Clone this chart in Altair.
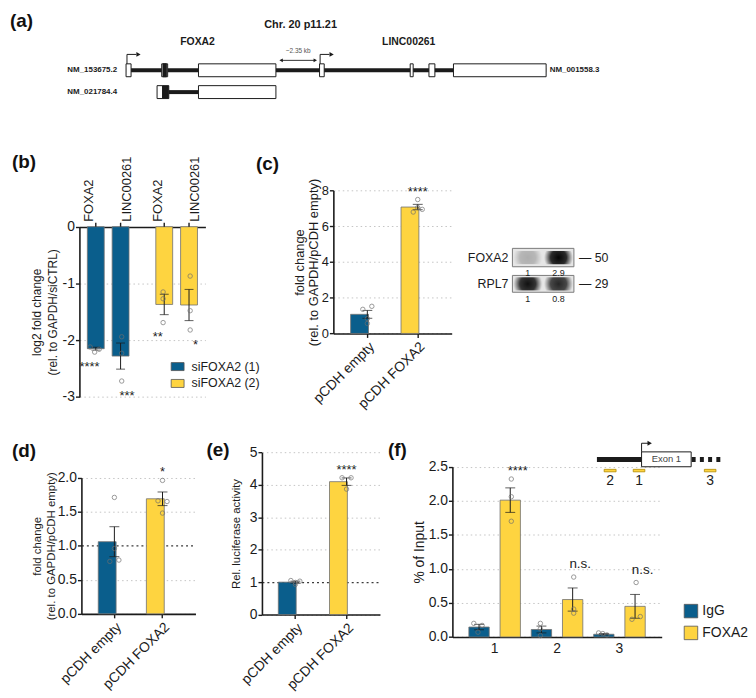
import altair as alt
import pandas as pd

FONT = "Liberation Sans"
BLUE = "#0a5e8c"
YELLOW = "#fed440"
INK = "#1b1b1b"
EDGE = "#707070"
DOT = "#6e6e6e"
GRID = "#c4c4c4"

# ======================= data =======================
# (a) transcript structures, positions in kb from the FOXA2 TSS
a_tx_names = ["NM_153675.2", "NM_021784.4"]
a_tx_line_start = [0.0, 2.30]
a_tx_line_end = [22.62, 3.90]
a_exon_tx = [0, 0, 0, 0, 0, 0, 0, 0, 1, 1, 1]
a_exon_start = [0.00, 1.92, 1.99, 3.90, 10.42, 15.30, 16.31, 17.63, 1.67, 1.97, 3.90]
a_exon_end = [0.27, 2.24, 2.17, 8.07, 10.67, 15.46, 16.63, 22.62, 1.97, 2.30, 8.07]
a_exon_kind = ["UTR", "UTR", "CDS", "UTR", "UTR", "UTR", "UTR", "UTR", "UTR", "CDS", "UTR"]
a_tss_kb = [0.05, 10.45]
a_gene_names = ["FOXA2", "LINC00261"]
a_gene_mid_kb = [3.85, 15.22]
a_gap_kb = [8.23, 10.31]
a_gap_text = "~2.35 kb"
a_region_text = "Chr. 20 p11.21"
a_region_mid_kb = 9.40
a_right_tx = "NM_001558.3"

# (b)
b_sirna = ["siFOXA2 (1)", "siFOXA2 (2)"]
b_genes = ["FOXA2", "LINC00261"]
b_mean = [[-2.15, -2.28], [-1.37, -1.38]]
b_sem = [[0.025, 0.23], [0.18, 0.275]]
b_pts = [[[-2.12, -2.21, -2.16], [-1.94, -2.23, -2.72]],
         [[-1.15, -1.27, -1.69], [-0.87, -1.48, -1.82]]]
b_jit = [[[-1, 0, 1], [0, 0, 0]], [[0, 0, 0], [0, 0, 0]]]
b_sig = [["****", "***"], ["**", "*"]]

# (c)
c_groups = ["pCDH empty", "pCDH FOXA2"]
c_mean = [1.07, 7.08]
c_sem = [0.22, 0.15]
c_pts = [[1.35, 1.52, 0.83, 0.56], [6.80, 7.50, 6.95, 7.05]]
c_jit = [[-1, 1, 0, 0], [-1, 0, 1, 0]]
c_sig = ["", "****"]

# western blot
wb_proteins = ["FOXA2", "RPL7"]
wb_kda = ["50", "29"]
wb_lanes = [1, 2]
wb_quant = [["1", "2.9"], ["1", "0.8"]]
wb_band = [[0.25, 1.0], [0.95, 0.85]]

# (d)
d_groups = ["pCDH empty", "pCDH FOXA2"]
d_mean = [1.06, 1.69]
d_sem = [0.22, 0.10]
d_pts = [[1.71, 0.96, 0.77, 0.79], [1.96, 1.66, 1.65, 1.48]]
d_jit = [[0, 0, -1, 1], [0, -1, 1, 0]]
d_sig = ["", "*"]

# (e)
e_groups = ["pCDH empty", "pCDH FOXA2"]
e_mean = [1.00, 4.10]
e_sem = [0.03, 0.115]
e_pts = [[1.05, 1.03, 0.93, 0.99], [4.22, 4.22, 3.87]]
e_jit = [[-1, 1, 0, 0], [-1, 1, 0]]
e_sig = ["", "****"]

# (f)
f_sites = ["1", "2", "3"]
f_ab = ["IgG", "FOXA2"]
f_mean = [[0.146, 2.01], [0.11, 0.55], [0.04, 0.45]]
f_sem = [[0.04, 0.18], [0.05, 0.17], [0.01, 0.175]]
f_pts = [[[0.20, 0.07, 0.17], [2.32, 2.06, 1.70]],
         [[0.20, 0.12, 0.02], [0.88, 0.41, 0.35]],
         [[0.06, 0.05, 0.03], [0.80, 0.26, 0.30]]]
f_jit = [[[-1, 0, 1], [0, 0, 0]], [[0, 0, 0], [0, 0, 0]], [[-1, 0, 1], [0, -1, 1]]]
f_sig = [["", "****"], ["", "n.s."], ["", "n.s."]]
# inset: promoter / exon 1, bp from the TSS
f_upstream_bp = -450
f_exon1_bp = [0, 500]
f_downstream_bp = 813
f_primer_names = ["2", "1", "3"]
f_primer_start = [-377, -84, 633]
f_primer_end = [-257, 33, 750]

# ======================= layout grid =======================
COLS = [72, 2, 182, 72, 120, 14, 145]   # column widths of the panel grid


# ======================= helpers =======================
def cond(test, a, b):
    return {"condition": {"test": test, "value": a}, "value": b}


def yaxis(title, values, fmt=None, expr=None, tfs=12, tlh=None, tpad=2, lfs=14,
          ref=None, ref_color="#3a3a3a", ref_dash=(2, 3), ref_w=1.2):
    kw = dict(title=title, values=values, orient="left", grid=True, gridDash=[1.5, 3],
              gridColor=GRID, gridWidth=1, domainColor=INK, domainWidth=1.6, tickColor=INK,
              tickWidth=1.4, tickSize=4, labelPadding=1, labelFontSize=lfs, labelColor=INK,
              labelFont=FONT, labelOverlap=False, labelSeparation=0, labelBound=False,
              titleFont=FONT, titleFontSize=tfs,
              titleFontWeight="normal", titleColor=INK, titlePadding=tpad)
    if ref is not None:
        t = f"datum.value === {ref}"
        kw["gridColor"] = cond(t, ref_color, GRID)
        kw["gridDash"] = cond(t, list(ref_dash), [1.5, 3])
        kw["gridWidth"] = cond(t, ref_w, 1)
    if fmt:
        kw["format"] = fmt
    if expr:
        kw["labelExpr"] = expr
    if tlh:
        kw["titleLineHeight"] = tlh
    return alt.Axis(**kw)


def letter(txt, dx, dy):
    return alt.TitleParams(txt, anchor="start", frame="group", fontSize=19,
                           fontWeight="bold", font=FONT, color="#111111",
                           dx=dx, dy=dy, offset=0)


def spacer(w, h=1):
    return (alt.Chart(pd.DataFrame({"s": [0]}))
            .mark_point(opacity=0, size=0, strokeWidth=0)
            .encode(x=alt.value(1), y=alt.value(0.5))
            .properties(width=w, height=h))


# ======================= (a) gene diagram =======================
A_X = alt.Scale(domain=[-6.357, 33.17], range=[0, 740], nice=False, zero=False)
A_Y = alt.Scale(domain=[0, 140], range=[0, 140], nice=False, zero=False)
TRACK_Y = [60, 82]
EXON_H = 6.5
ARROW_Y = 44


def ax(f="x"):
    return alt.X(f"{f}:Q", scale=A_X, axis=None)


def ay(f="y"):
    return alt.Y(f"{f}:Q", scale=A_Y, axis=None)


line_df = pd.DataFrame({"x": a_tx_line_start, "x2": a_tx_line_end, "y": TRACK_Y})
exon_df = pd.DataFrame({
    "x": a_exon_start, "x2": a_exon_end,
    "y": [TRACK_Y[t] - EXON_H for t in a_exon_tx],
    "y2": [TRACK_Y[t] + EXON_H for t in a_exon_tx],
    "kind": a_exon_kind})
tss_df = pd.DataFrame({"x": a_tss_kb, "x2": [k + 0.5 for k in a_tss_kb],
                       "xh": [k + 0.62 for k in a_tss_kb],
                       "y": [ARROW_Y] * 2, "y2": [TRACK_Y[0] - EXON_H] * 2})
gap_df = pd.DataFrame({"x": [a_gap_kb[0] + 0.1], "x2": [a_gap_kb[1] - 0.1], "y": [50],
                       "mid": [(a_gap_kb[0] + a_gap_kb[1]) / 2], "ty": [41],
                       "txt": [a_gap_text]})
gapl_df = pd.DataFrame({"x": [a_gap_kb[0] + 0.12], "y": [50]})
gapr_df = pd.DataFrame({"x": [a_gap_kb[1] - 0.12], "y": [50]})
txl_df = pd.DataFrame({"x": [-0.48, -0.48], "y": TRACK_Y, "t": a_tx_names})
txr_df = pd.DataFrame({"x": [a_exon_end[7] + 0.19], "y": [TRACK_Y[0]], "t": [a_right_tx]})
gene_df = pd.DataFrame({"x": a_gene_mid_kb, "y": [32, 32], "t": a_gene_names})
reg_df = pd.DataFrame({"x": [a_region_mid_kb], "y": [14], "t": [a_region_text]})
let_df = pd.DataFrame({"x": [-6.25], "y": [10], "t": ["(a)"]})

a_layers = [
    alt.Chart(line_df).mark_rule(color=INK, strokeWidth=4, strokeCap="butt").encode(
        x=ax(), x2="x2:Q", y=ay()),
    alt.Chart(exon_df).mark_rect(stroke=INK, strokeWidth=1).encode(
        x=ax(), x2="x2:Q", y=ay(), y2="y2:Q",
        fill=alt.Fill("kind:N", scale=alt.Scale(domain=["UTR", "CDS"], range=["#ffffff", INK]),
                      legend=None)),
    alt.Chart(tss_df).mark_rule(color=INK, strokeWidth=1).encode(x=ax(), y=ay(), y2="y2:Q"),
    alt.Chart(tss_df).mark_rule(color=INK, strokeWidth=1).encode(x=ax(), x2="x2:Q", y=ay()),
    alt.Chart(tss_df).mark_point(shape="triangle-right", filled=True, size=24, color=INK,
                                 opacity=1).encode(x=ax("xh"), y=ay()),
    alt.Chart(gap_df).mark_rule(color=INK, strokeWidth=0.9).encode(x=ax(), x2="x2:Q", y=ay()),
    alt.Chart(gapl_df).mark_point(shape="triangle-left", filled=True, size=16, color=INK,
                                  opacity=1).encode(x=ax(), y=ay()),
    alt.Chart(gapr_df).mark_point(shape="triangle-right", filled=True, size=16, color=INK,
                                  opacity=1).encode(x=ax(), y=ay()),
    alt.Chart(gap_df).mark_text(fontSize=6.5, color="#555555", baseline="middle").encode(
        x=ax("mid"), y=ay("ty"), text="txt:N"),
    alt.Chart(txl_df).mark_text(align="right", baseline="middle", fontSize=8,
                                fontWeight="bold", color=INK).encode(x=ax(), y=ay(), text="t:N"),
    alt.Chart(txr_df).mark_text(align="left", baseline="middle", fontSize=8,
                                fontWeight="bold", color=INK).encode(x=ax(), y=ay(), text="t:N"),
    alt.Chart(gene_df).mark_text(baseline="middle", fontSize=10.5, fontWeight="bold",
                                 color=INK).encode(x=ax(), y=ay(), text="t:N"),
    alt.Chart(reg_df).mark_text(baseline="middle", fontSize=11, fontWeight="bold",
                                color=INK).encode(x=ax(), y=ay(), text="t:N"),
    alt.Chart(let_df).mark_text(align="left", baseline="middle", fontSize=19,
                                fontWeight="bold", color="#111111").encode(
        x=ax(), y=ay(), text="t:N"),
]
panel_a = alt.layer(*a_layers).properties(width=COLS[0], height=140)

# ======================= (b) =======================
B_H, B_TOP, B_W = 249.3, 77.7, 127
b_tick = 4 * 3 / (B_H - B_TOP)          # 4 px expressed in log2 units
b_rows, b_prow = [], []
for i, s in enumerate(b_sirna):
    for k, g in enumerate(b_genes):
        m, se, pts = b_mean[i][k], b_sem[i][k], b_pts[i][k]
        b_rows.append(dict(sirna=s, gene=g, mean=m, lo=m - se, hi=m + se, zero=0.0,
                           tick=b_tick, low=min(m - se, min(pts)), sig=b_sig[i][k]))
        for v, j in zip(pts, b_jit[i][k]):
            b_prow.append(dict(sirna=s, gene=g, val=v, slot=(2 if k == 0 else 8) + j))
bdf = pd.DataFrame(b_rows)
bpdf = pd.DataFrame(b_prow)
B_XS = alt.Scale(domain=b_sirna, range=[0, B_W], paddingInner=0.2754, paddingOuter=0.058)
B_XO = alt.Scale(domain=b_genes, paddingInner=0.32, paddingOuter=0.16)
B_YS = alt.Scale(domain=[-3, 0], range=[B_H, B_TOP], nice=False)


def bx():
    return alt.X("sirna:N", scale=B_XS, axis=None)


def bxo():
    return alt.XOffset("gene:N", scale=B_XO)


def by(f):
    return alt.Y(f"{f}:Q", scale=B_YS)


b_legend = alt.Legend(orient="none", legendX=92, legendY=134 + B_TOP, title=None,
                      symbolType="M-1,-0.62H1V0.62H-1Z", symbolSize=169,
                      symbolStrokeColor="#555555", symbolStrokeWidth=0.8,
                      labelFontSize=12.5, labelFont=FONT, labelColor=INK,
                      labelOffset=7, rowPadding=3, padding=0)
b_layers = [
    alt.Chart(bdf).mark_bar(stroke=EDGE, strokeWidth=0.8).encode(
        x=bx(), xOffset=bxo(),
        y=alt.Y("mean:Q", scale=B_YS,
                axis=yaxis(["log2 fold change", "(rel. to GAPDH/siCTRL)"], [0, -1, -2, -3],
                           expr="datum.value < 0 ? '-' + format(-datum.value, 'd') : '0'",
                           tfs=12, tlh=16, tpad=3, ref=0, ref_color=INK, ref_dash=(1, 0),
                           ref_w=1.6)),
        color=alt.Color("sirna:N", scale=alt.Scale(domain=b_sirna, range=[BLUE, YELLOW]),
                        legend=b_legend)),
    alt.Chart(bdf).mark_rule(color=INK, strokeWidth=1.4).encode(
        x=bx(), xOffset=bxo(), y=by("zero"), y2="tick:Q"),
    alt.Chart(bdf).mark_rule(color=INK, strokeWidth=1).encode(
        x=bx(), xOffset=bxo(), y=by("lo"), y2="hi:Q"),
    alt.Chart(bdf).mark_tick(color=INK, thickness=1, size=9).encode(
        x=bx(), xOffset=bxo(), y=by("lo")),
    alt.Chart(bdf).mark_tick(color=INK, thickness=1, size=9).encode(
        x=bx(), xOffset=bxo(), y=by("hi")),
    alt.Chart(bpdf).mark_point(filled=False, size=20, color=DOT, strokeWidth=1).encode(
        x=bx(), xOffset=alt.XOffset("slot:O", scale=alt.Scale(domain=list(range(11)),
                                                              paddingInner=0, paddingOuter=0.5)),
        y=by("val")),
    alt.Chart(bdf).mark_text(angle=270, align="left", baseline="middle", dx=5, fontSize=13,
                             color=INK).encode(
        x=bx(), xOffset=bxo(), y=by("zero"), text="gene:N"),
    alt.Chart(bdf).mark_text(baseline="top", dy=9, fontSize=13, color=INK).encode(
        x=bx(), xOffset=bxo(), y=by("low"), text="sig:N"),
]
panel_b = (alt.layer(*b_layers).resolve_scale(xOffset="independent")
           .properties(width=COLS[1], height=B_H, title=letter("(b)", -68, 23)))


# ======================= (c), (d), (e) =======================
def two_bar(groups, means, sems, pts, jits, sigs, W, Wdecl, H, top, ymax, yvals, yfmt,
            ytitle, tfs, tlh, tpad, pi, po, jpo, title, lfs=14):
    rows, prow = [], []
    for g, m, s, p, js, sg in zip(groups, means, sems, pts, jits, sigs):
        rows.append(dict(grp=g, mean=m, lo=m - s, hi=m + s, top=max(m + s, max(p)), sig=sg))
        for v, j in zip(p, js):
            prow.append(dict(grp=g, val=v, slot=3 + j))
    df = pd.DataFrame(rows)
    pdf = pd.DataFrame(prow)
    XS = alt.Scale(domain=groups, range=[0, W], paddingInner=pi, paddingOuter=po)
    YS = alt.Scale(domain=[0, ymax], range=[H, top], nice=False)
    xax = alt.Axis(title=None, orient="bottom", labelAngle=315, labelFontSize=14,
                   labelColor=INK, labelFont=FONT, labelPadding=2, domainColor=INK,
                   domainWidth=1.6, tickColor=INK, tickWidth=1.4, tickSize=4,
                   labelOverlap=False)

    def X():
        return alt.X("grp:N", scale=XS)

    def Y(f):
        return alt.Y(f"{f}:Q", scale=YS)

    layers = [
        alt.Chart(df).mark_bar(stroke=EDGE, strokeWidth=0.8).encode(
            x=alt.X("grp:N", scale=XS, axis=xax),
            y=alt.Y("mean:Q", scale=YS,
                    axis=yaxis(ytitle, yvals, fmt=yfmt, tfs=tfs, tlh=tlh, tpad=tpad, ref=1,
                               lfs=lfs)),
            color=alt.Color("grp:N", scale=alt.Scale(domain=groups, range=[BLUE, YELLOW]),
                            legend=None)),
        alt.Chart(df).mark_rule(color=INK, strokeWidth=1).encode(x=X(), y=Y("lo"), y2="hi:Q"),
        alt.Chart(df).mark_tick(color=INK, thickness=1, size=10).encode(x=X(), y=Y("lo")),
        alt.Chart(df).mark_tick(color=INK, thickness=1, size=10).encode(x=X(), y=Y("hi")),
        alt.Chart(pdf).mark_point(filled=False, size=20, color=DOT, strokeWidth=1).encode(
            x=X(), xOffset=alt.XOffset("slot:O", scale=alt.Scale(domain=list(range(7)),
                                                                 paddingInner=0,
                                                                 paddingOuter=jpo)),
            y=Y("val")),
        alt.Chart(df).mark_text(dy=-8, fontSize=13, color=INK).encode(
            x=X(), y=Y("top"), text="sig:N"),
    ]
    return alt.layer(*layers).properties(width=Wdecl, height=H, title=title)


panel_c = two_bar(c_groups, c_mean, c_sem, c_pts, c_jit, c_sig, 119.3, COLS[4], 185.3, 41.3,
                  8, list(range(9)), "d", ["fold change", "(rel. to GAPDH/pCDH empty)"],
                  13, 13.5, 1, 0.337, 0.3425, 0.71, letter("(c)", -78, 25), lfs=13)
panel_d = two_bar(d_groups, d_mean, d_sem, d_pts, d_jit, d_sig, 115, COLS[2], 218, 80.7,
                  2, [0, 0.5, 1, 1.5, 2], ".1f", ["fold change", "(rel. to GAPDH/pCDH empty)"],
                  11.5, 13.3, 1, 0.33, 0.35, 0.56, letter("(d)", -70, 64))
panel_e = two_bar(e_groups, e_mean, e_sem, e_pts, e_jit, e_sig, 119, COLS[3], 218.7, 55.3,
                  5, list(range(6)), "d", "Rel. luciferase activity",
                  11.5, None, 8, 0.334, 0.32, 0.79, letter("(e)", -56, 63))

# ======================= western blot =======================
WB_X = alt.Scale(domain=[-1.0, 3.677], range=[0, 145], nice=False, zero=False)
WB_Y = alt.Scale(domain=[-0.634, 2.008], range=[92, 162], nice=False, zero=False)
box_df = pd.DataFrame({"x": [0.5, 0.5], "x2": [2.5, 2.5], "row": [0, 1],
                       "y": [-0.35, 0.68], "y2": [0.35, 1.32],
                       "protein": wb_proteins, "kda": ["\u2014 " + k for k in wb_kda]})
band_rows = []
for r, prot in enumerate(wb_proteins):
    for li, lane in enumerate(wb_lanes):
        band_rows.append(dict(x=lane - 0.47, x2=lane + 0.47, y=r - 0.25, y2=r + 0.25,
                              lane=lane, qy=r + 0.58, inten=wb_band[r][li],
                              q=wb_quant[r][li]))
band_df = pd.DataFrame(band_rows)
GRAD = alt.RadialGradient(gradient="radial", stops=[
    alt.GradientStop(offset=0, color="#050505"),
    alt.GradientStop(offset=0.55, color="rgba(10,10,10,0.85)"),
    alt.GradientStop(offset=1, color="rgba(30,30,30,0)")])


def wx(f):
    return alt.X(f"{f}:Q", scale=WB_X, axis=None)


def wy(f):
    return alt.Y(f"{f}:Q", scale=WB_Y, axis=None)


blot = alt.layer(
    alt.Chart(box_df).mark_rect(fill="#e6e6e6", stroke="#7a7a7a", strokeWidth=1).encode(
        x=wx("x"), x2="x2:Q", y=wy("y"), y2="y2:Q"),
    alt.Chart(band_df).mark_rect(fill=GRAD).encode(
        x=wx("x"), x2="x2:Q", y=wy("y"), y2="y2:Q",
        opacity=alt.Opacity("inten:Q", scale=None)),
    alt.Chart(box_df).mark_text(align="right", baseline="middle", dx=-4, fontSize=12.5,
                                color=INK).encode(x=wx("x"), y=wy("row"), text="protein:N"),
    alt.Chart(box_df).mark_text(align="left", baseline="middle", dx=5, fontSize=12.5,
                                color=INK).encode(x=wx("x2"), y=wy("row"), text="kda:N"),
    alt.Chart(band_df).mark_text(baseline="middle", fontSize=9, color=INK).encode(
        x=wx("lane"), y=wy("qy"), text="q:N"),
).properties(width=COLS[6], height=162)

# ======================= (f) =======================
F_H, F_TOP, F_W = 241.3, 69.7, 211
f_rows, f_prow = [], []
for i, s in enumerate(f_sites):
    for k, a in enumerate(f_ab):
        m, se, pts = f_mean[i][k], f_sem[i][k], f_pts[i][k]
        f_rows.append(dict(site=s, ab=a, mean=m, lo=m - se, hi=m + se,
                           top=max(m + se, max(pts)), sig=f_sig[i][k],
                           star=f_sig[i][k] if "*" in f_sig[i][k] else "",
                           ns=f_sig[i][k] if "*" not in f_sig[i][k] else ""))
        for v, j in zip(pts, f_jit[i][k]):
            f_prow.append(dict(site=s, ab=a, val=v, slot=(3 if k == 0 else 11) + j))
fdf = pd.DataFrame(f_rows)
fpdf = pd.DataFrame(f_prow)
F_XS = alt.Scale(domain=f_sites, range=[0, F_W], paddingInner=0, paddingOuter=0.177)
F_XO = alt.Scale(domain=f_ab, paddingInner=0.348, paddingOuter=0.174)
F_YS = alt.Scale(domain=[0, 2.5], range=[F_H, F_TOP], nice=False)
fx_axis = alt.Axis(title=None, orient="bottom", labelAngle=0, ticks=False, labelFontSize=14,
                   labelColor=INK, labelFont=FONT, labelPadding=5, domainColor=INK,
                   domainWidth=1.6)


def fx():
    return alt.X("site:N", scale=F_XS)


def fxo():
    return alt.XOffset("ab:N", scale=F_XO)


def fy(f):
    return alt.Y(f"{f}:Q", scale=F_YS)


f_legend = alt.Legend(orient="none", legendX=233, legendY=138 + F_TOP, title=None,
                      symbolType="square", symbolSize=185, symbolStrokeColor="#555555",
                      symbolStrokeWidth=0.8, labelFontSize=14, labelFont=FONT,
                      labelColor=INK, labelOffset=4, rowPadding=5, padding=0)
f_main = alt.layer(
    alt.Chart(fdf).mark_bar(stroke=EDGE, strokeWidth=0.8).encode(
        x=alt.X("site:N", scale=F_XS, axis=fx_axis), xOffset=fxo(),
        y=alt.Y("mean:Q", scale=F_YS,
                axis=yaxis("% of Input", [0, 0.5, 1, 1.5, 2, 2.5], fmt=".1f", tfs=14, tpad=2)),
        color=alt.Color("ab:N", scale=alt.Scale(domain=f_ab, range=[BLUE, YELLOW]),
                        legend=f_legend)),
    alt.Chart(fdf).mark_rule(color=INK, strokeWidth=1).encode(
        x=fx(), xOffset=fxo(), y=fy("lo"), y2="hi:Q"),
    alt.Chart(fdf).mark_tick(color=INK, thickness=1, size=10).encode(
        x=fx(), xOffset=fxo(), y=fy("lo")),
    alt.Chart(fdf).mark_tick(color=INK, thickness=1, size=10).encode(
        x=fx(), xOffset=fxo(), y=fy("hi")),
    alt.Chart(fpdf).mark_point(filled=False, size=20, color=DOT, strokeWidth=1).encode(
        x=fx(), xOffset=alt.XOffset("slot:O", scale=alt.Scale(domain=list(range(15)),
                                                              paddingInner=0,
                                                              paddingOuter=0.487)),
        y=fy("val")),
    alt.Chart(fdf).mark_text(dy=-8, fontSize=13, color=INK).encode(
        x=fx(), xOffset=fxo(), y=fy("top"), text="star:N"),
    alt.Chart(fdf).mark_text(dy=-13, fontSize=13.5, color=INK).encode(
        x=fx(), xOffset=fxo(), y=fy("top"), text="ns:N"),
).resolve_scale(xOffset="independent")

INS_X = alt.Scale(domain=[f_upstream_bp, f_downstream_bp], range=[145.7, 272], nice=False,
                  zero=False)
INS_Y = alt.Scale(domain=[0, 40], range=[F_TOP - 23.7, F_TOP + 16.3], nice=False, zero=False)


def ix(f):
    return alt.X(f"{f}:Q", scale=INS_X, axis=None)


def iy(f):
    return alt.Y(f"{f}:Q", scale=INS_Y, axis=None)


gene_track = pd.DataFrame({"x": [f_upstream_bp], "x2": [f_exon1_bp[0]], "y": [16.3]})
exon_box = pd.DataFrame({"x": [f_exon1_bp[0]], "x2": [f_exon1_bp[1]], "y": [8.7], "y2": [23.7],
                         "mid": [(f_exon1_bp[0] + f_exon1_bp[1]) / 2], "ym": [16.3],
                         "t": ["Exon 1"]})
down_track = pd.DataFrame({"x": [f_exon1_bp[1] + 5], "x2": [f_downstream_bp], "y": [16.3]})
tss_arrow = pd.DataFrame({"x": [f_exon1_bp[0]], "x2": [f_exon1_bp[0] + 70],
                          "xh": [f_exon1_bp[0] + 82], "y": [0.0], "y2": [8.7]})
primer_df = pd.DataFrame({"x": f_primer_start, "x2": f_primer_end,
                          "mid": [(a + b) / 2 for a, b in zip(f_primer_start, f_primer_end)],
                          "y": [26.3] * 3, "y2": [28.8] * 3, "ly": [38] * 3,
                          "t": f_primer_names})
inset = alt.layer(
    alt.Chart(gene_track).mark_rule(color=INK, strokeWidth=5, strokeCap="butt").encode(
        x=ix("x"), x2="x2:Q", y=iy("y")),
    alt.Chart(down_track).mark_rule(color=INK, strokeWidth=5, strokeCap="butt",
                                    strokeDash=[4, 4.3]).encode(x=ix("x"), x2="x2:Q", y=iy("y")),
    alt.Chart(exon_box).mark_rect(fill="#ffffff", stroke=INK, strokeWidth=1).encode(
        x=ix("x"), x2="x2:Q", y=iy("y"), y2="y2:Q"),
    alt.Chart(exon_box).mark_text(fontSize=9.5, color="#444444", baseline="middle").encode(
        x=ix("mid"), y=iy("ym"), text="t:N"),
    alt.Chart(tss_arrow).mark_rule(color=INK, strokeWidth=1).encode(
        x=ix("x"), y=iy("y"), y2="y2:Q"),
    alt.Chart(tss_arrow).mark_rule(color=INK, strokeWidth=1).encode(
        x=ix("x"), x2="x2:Q", y=iy("y")),
    alt.Chart(tss_arrow).mark_point(shape="triangle-right", filled=True, size=26, color=INK,
                                    opacity=1).encode(x=ix("xh"), y=iy("y")),
    alt.Chart(primer_df).mark_rect(fill=YELLOW, stroke="#b08a00", strokeWidth=0.8).encode(
        x=ix("x"), x2="x2:Q", y=iy("y"), y2="y2:Q"),
    alt.Chart(primer_df).mark_text(fontSize=14, color=INK, baseline="middle").encode(
        x=ix("mid"), y=iy("ly"), text="t:N"),
)
panel_f = (alt.layer(f_main, inset)
           .resolve_scale(x="independent", y="independent", xOffset="independent")
           .properties(width=COLS[5], height=F_H, title=letter("(f)", -65, 63)))

# ======================= grid layout =======================
cells = [
    panel_a, spacer(COLS[1]), spacer(COLS[2]), spacer(COLS[3]), spacer(COLS[4]),
    spacer(COLS[5]), spacer(COLS[6]),
    spacer(COLS[0]), panel_b, spacer(COLS[2]), spacer(COLS[3]), panel_c,
    spacer(COLS[5]), blot,
    spacer(COLS[0]), spacer(COLS[1]), panel_d, panel_e, spacer(COLS[4]),
    panel_f, spacer(COLS[6]),
]
chart = (alt.concat(*cells, columns=7, spacing=0, bounds="flush", align="none")
         .resolve_scale(color="independent", xOffset="independent")
         .properties(padding=0)
         .configure_view(stroke=None)
         .configure_axis(labelFont=FONT, titleFont=FONT)
         .configure_text(font=FONT)
         .configure_legend(labelFont=FONT)
         .configure_title(font=FONT))

chart.save("out.html", embed_options={"renderer": "svg", "actions": False})
